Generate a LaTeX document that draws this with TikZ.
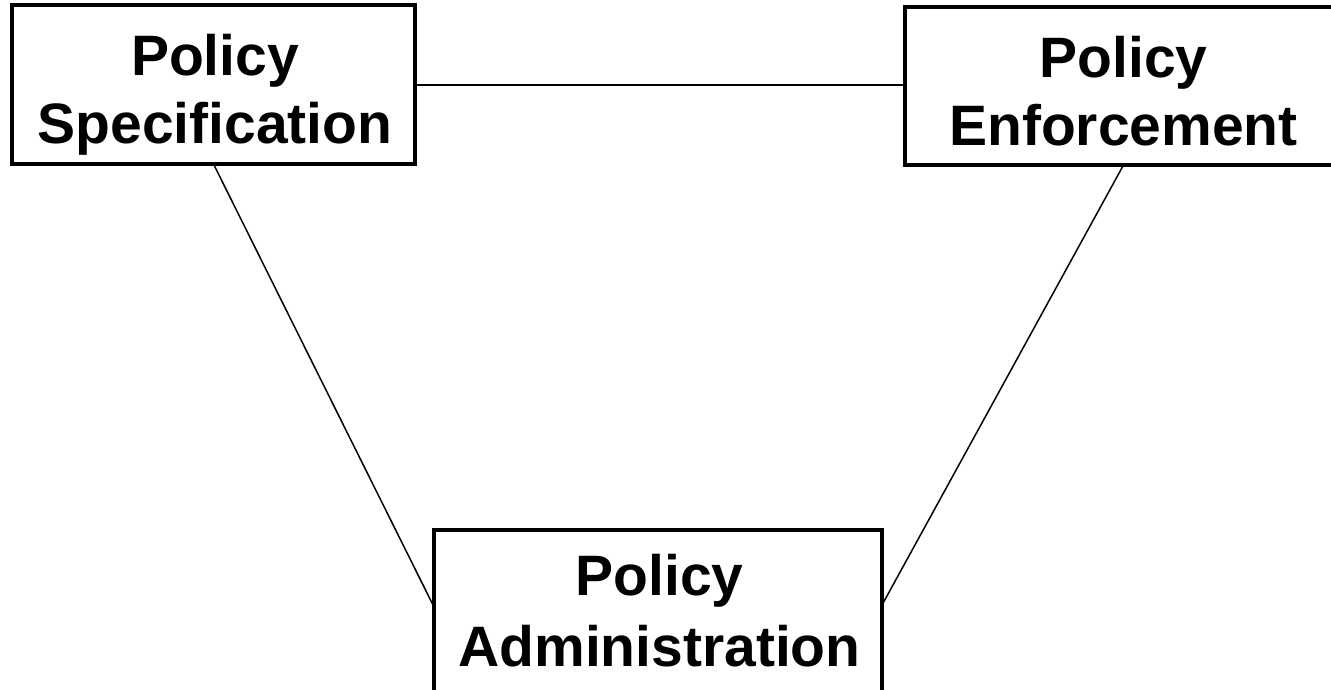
\documentclass[tikz,border=0pt]{standalone}
\usepackage{fontspec}
\setmainfont{Liberation Sans}
\begin{document}
\begin{tikzpicture}[x=1pt,y=-1pt,
  box/.style={draw=black, line width=4.3pt, fill=white, inner sep=0pt, outer sep=0pt},
  lbl/.style={anchor=base, inner sep=0pt, font=\fontsize{57}{68}\selectfont\bfseries},
  link/.style={draw=black, line width=1.5pt}]
\useasboundingbox (0,0) rectangle (1331,689);
\node[box, minimum width=403pt, minimum height=159pt] (spec) at (213.5,84.5) {};
\node[box, minimum width=445pt, minimum height=158pt] (enf) at (1127.5,86) {};
\node[box, minimum width=448pt, minimum height=170pt] (adm) at (658,615) {};
\node[lbl] (specA) at (215,75) {Policy};
\node[lbl] (specB) at (215,143) {Specification};
\node[lbl] (enfA) at (1123.5,77) {Policy};
\node[lbl] (enfB) at (1123.5,145) {Enforcement};
\node[lbl] (admA) at (659.5,595) {Policy};
\node[lbl] (admB) at (659.5,666) {Administration};
\draw[link] (spec.east |- 0,85) -- (enf.west |- 0,85);
\draw[link] (spec.south) -- ([yshift=8pt]adm.west);
\draw[link] (enfB |- enf.south) -- ([yshift=10pt]adm.east);
\end{tikzpicture}
\end{document}
